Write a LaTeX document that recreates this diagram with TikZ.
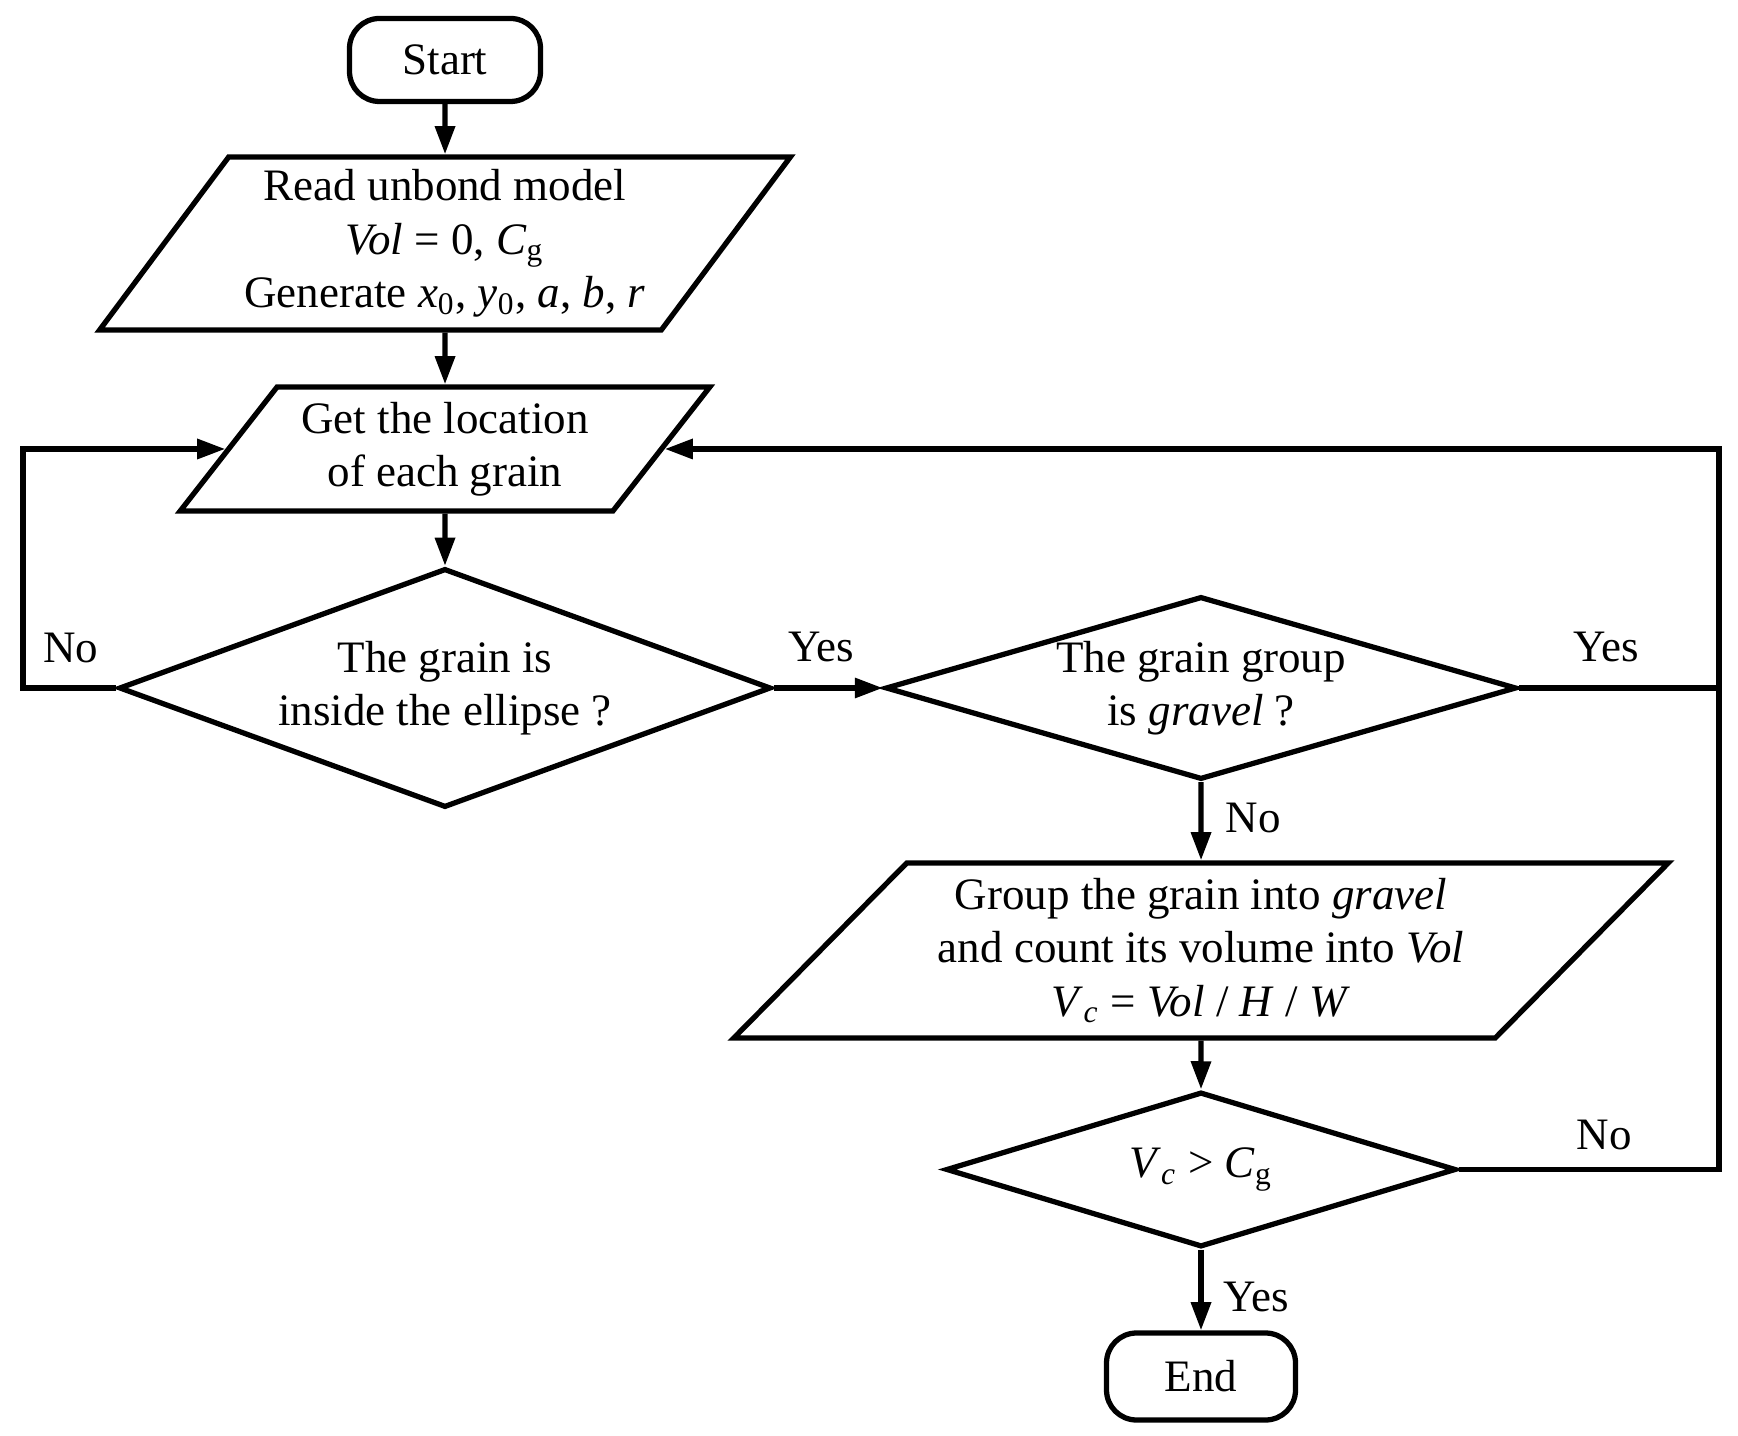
\documentclass[tikz,border=0pt]{standalone}
\usepackage{fontspec}
\setmainfont{Liberation Serif}
\usetikzlibrary{shapes.geometric,arrows.meta}

\tikzset{
  terminal/.style={draw, rectangle, rounded corners=0.3cm, inner sep=0pt},
  ioblock/.style={draw, trapezium, trapezium stretches=true, align=center, inner sep=0pt},
  decision/.style={draw, diamond, align=center, inner sep=0pt},
  flow/.style={-{Triangle[length=8pt,width=5.5pt]}},
}

\begin{document}
\begin{tikzpicture}[line width=1.5pt, font=\fontsize{12.8pt}{15.2pt}\selectfont]
    \useasboundingbox (0,0) rectangle (17.38,-14.36);

    % Start und Einlesen
    \node[terminal, minimum width=1.91cm, minimum height=0.83cm] (start) at (4.45,-0.60) {Start};
    \node[ioblock, trapezium left angle=51, trapezium right angle=129, minimum width=6.92cm, minimum height=1.73cm] (read) at (4.45,-2.435)
        {Read unbond model\\ \textit{Vol} = 0, \textit{C}\textsubscript{g}\\ Generate \textit{x}\textsubscript{0}, \textit{y}\textsubscript{0}, \textit{a}, \textit{b}, \textit{r}};
    \node[ioblock, trapezium left angle=48.7, trapezium right angle=131.3, minimum width=5.30cm, minimum height=1.24cm] (get) at (4.45,-4.49)
        {Get the location\\ of each grain};

    % Entscheidungen
    \node[decision, minimum width=6.52cm, minimum height=2.39cm, aspect=2.73] (inside) at (4.45,-6.88)
        {The grain is\\ inside the ellipse ?};
    \node[decision, minimum width=6.31cm, minimum height=1.83cm, aspect=3.45] (isgravel) at (12.01,-6.88)
        {The grain group\\ is \textit{gravel} ?};
    \node[ioblock, trapezium left angle=43.1, trapezium right angle=136.9, minimum width=9.37cm, minimum height=1.75cm] (group) at (12.01,-9.505)
        {Group the grain into \textit{gravel}\\ and count its volume into \textit{Vol}\\ \textit{V}\textsubscript{\textit{c}} = \textit{Vol} / \textit{H} / \textit{W}};
    \node[decision, minimum width=5.10cm, minimum height=1.55cm, aspect=3.29] (check) at (12.01,-11.695)
        {\textit{V}\textsubscript{\textit{c}} > \textit{C}\textsubscript{g}};
    \node[terminal, minimum width=1.89cm, minimum height=0.87cm] (end) at (12.01,-13.765) {End};

    % Verbindungen
    \draw[flow] (start) -- (read);
    \draw[flow] (read) -- (get);
    \draw[flow] (get) -- (inside);
    \draw[flow] (inside.east) -- (isgravel.west);
    \draw[flow] (isgravel) -- (group);
    \draw[flow] (group) -- (check);
    \draw[flow] (check) -- (end);

    % Schleifen
    \coordinate (lturn) at (0.23,-6.88);
    \coordinate (rturn) at (17.19,-6.88);
    \draw[flow] (inside.west) -- (lturn) |- (get);
    \draw[flow] (isgravel.east) -- (rturn) |- (get);
    \draw (check.east) -| (rturn);

    % Beschriftungen
    \node (noleft) at (0.71,-6.48) {No};
    \node (yesmid) at (8.21,-6.47) {Yes};
    \node (yesright) at (16.06,-6.47) {Yes};
    \node (nodown) at (12.53,-8.18) {No};
    \node (noright) at (16.04,-11.35) {No};
    \node (yesdown) at (12.56,-12.97) {Yes};
\end{tikzpicture}
\end{document}
